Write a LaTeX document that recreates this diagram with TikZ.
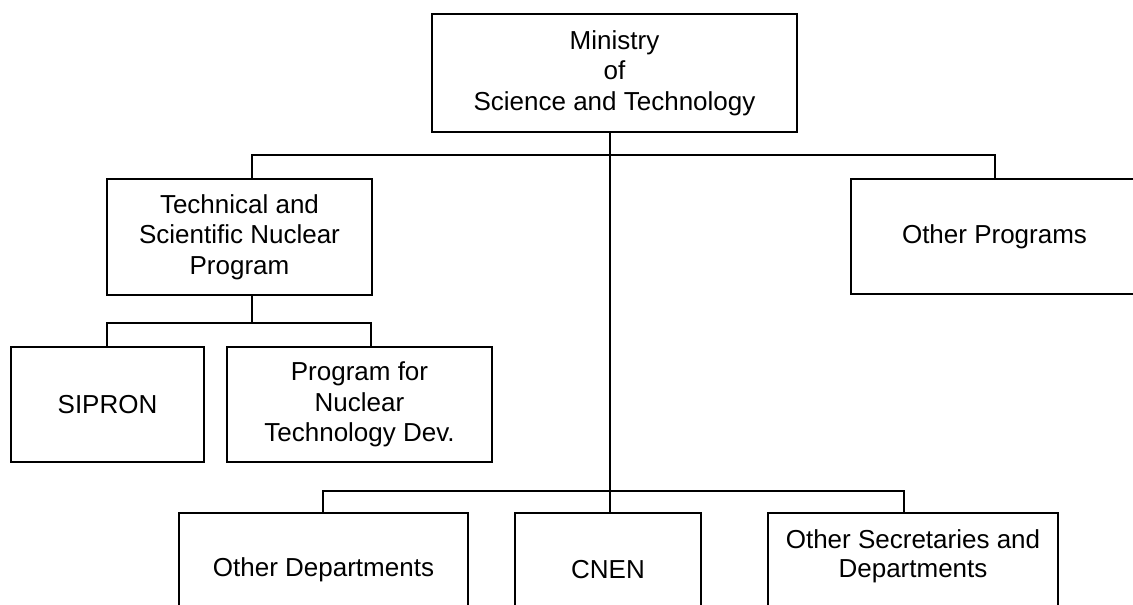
\documentclass[tikz,border=0pt]{standalone}
\usepackage{fontspec}
\setmainfont{Liberation Sans}
\begin{document}
\begin{tikzpicture}[x=1pt,y=-1pt,
  box/.style={draw, line width=1.5pt, inner sep=0pt, outer sep=0pt, align=center, font=\fontsize{26}{30.5}\selectfont},
  lbl/.style={align=center, inner sep=0pt, font=\fontsize{26}{29}\selectfont},
  link/.style={line width=1.5pt}]
\useasboundingbox (0,0) rectangle (1133,605);
\clip (0,0) rectangle (1133,605);
% boxes
\node[box, minimum width=365pt, minimum height=118pt] (min) at (614.5,73) {Ministry\\of\\Science and Technology};
\node[box, minimum width=265pt, minimum height=116pt] (tsnp) at (239.5,237) {Technical and\\Scientific Nuclear\\Program};
\node[box, minimum width=310pt, minimum height=115pt] (op) at (1006,236.5) {};
\node[lbl] (optext) at (994.5,236.5) {Other Programs};
\node[box, minimum width=193pt, minimum height=115pt] (sipron) at (107.5,404.5) {SIPRON};
\node[box, minimum width=265pt, minimum height=115pt] (pntd) at (359.5,404.5) {Program for\\Nuclear\\Technology Dev.};
\node[box, minimum width=289pt, minimum height=114pt] (od) at (323.5,570) {Other Departments};
\node[box, minimum width=186pt, minimum height=114pt] (cnen) at (608,570) {CNEN};
\node[box, minimum width=290pt, minimum height=114pt] (osd) at (913,570) {};
\node[lbl] (osdtext) at (913,556) {Other Secretaries and\\Departments};
% bus coordinates
\coordinate (trunk) at (610,0);
\coordinate (busL) at (252,155);
\coordinate (busR) at (995,155);
\coordinate (subL) at (107,323);
\coordinate (subR) at (371,323);
\coordinate (botL) at (323,491);
\coordinate (botR) at (904,491);
% connectors
\draw[link] (min.south -| trunk) -- (cnen.north -| trunk);
\draw[link] (tsnp.north -| busL) -- (busL) -- (busR) -- (op.north -| busR);
\draw[link] (tsnp.south -| busL) -- (busL |- subL);
\draw[link] (sipron.north -| subL) -- (subL) -- (subR) -- (pntd.north -| subR);
\draw[link] (od.north -| botL) -- (botL) -- (botR) -- (osd.north -| botR);
\end{tikzpicture}
\end{document}
